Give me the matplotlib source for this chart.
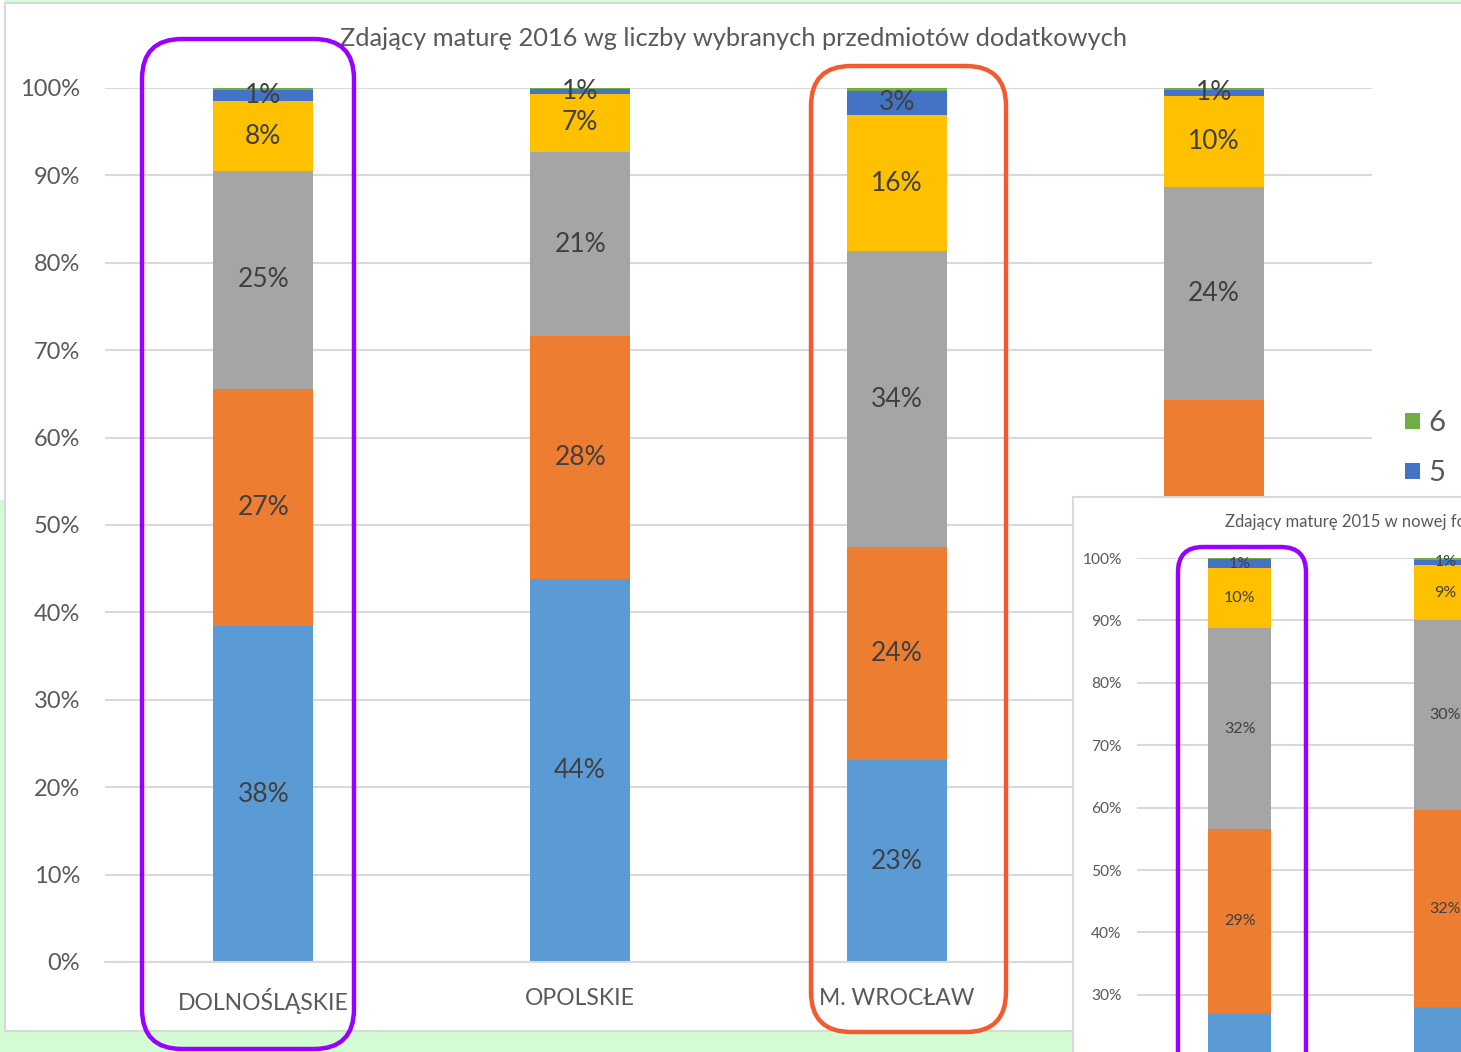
import numpy as np
import matplotlib.pyplot as plt
from matplotlib.patches import FancyBboxPatch, Rectangle, Patch

plt.rcParams['font.family'] = ['Lato', 'DejaVu Sans']

# dane - wykres główny (2016)
kategorie = ["DOLNOŚLĄSKIE", "OPOLSKIE", "M. WROCŁAW", ""]
s1 = [38.4, 43.8, 23.1, 35.9]
s2 = [27.2, 27.8, 24.4, 28.4]
s3 = [24.9, 21.1, 33.8, 24.4]
s4 = [8.0, 6.6, 15.6, 10.4]
s5 = [1.3, 0.6, 2.8, 0.7]
s6 = [0.2, 0.1, 0.3, 0.2]

# dane - wstawka (2015)
kategorie_2015 = ["", ""]
w1 = [27.1, 28.0]
w2 = [29.4, 31.6]
w3 = [32.3, 30.4]
w4 = [9.6, 8.9]
w5 = [1.4, 0.8]
w6 = [0.2, 0.3]

nazwy = ["1", "2", "3", "4", "5", "6"]
kolory = ["#5B9BD5", "#ED7D31", "#A5A5A5", "#FFC000", "#4472C4", "#70AD47"]

W, H = 1461, 1052
fig = plt.figure(figsize=(W / 100, H / 100), dpi=100)
fig.patch.set_facecolor('white')

# tło (zielony pasek i ramka wykresu)
bg = fig.add_axes([0, 0, 1, 1], zorder=-5)
bg.set_xlim(0, W)
bg.set_ylim(H, 0)
bg.axis('off')
bg.add_patch(Rectangle((0, 0), W, H, facecolor='#d4fcd4', edgecolor='none'))
bg.add_patch(Rectangle((0, 0), 5, 500, facecolor='white', edgecolor='none'))
bg.add_patch(Rectangle((5, 3), W + 20, 1028, facecolor='white', edgecolor='#d9d9d9', lw=1.5))


def slupki(ax, serie, szer, fs, etykiety_do=5):
    x = np.arange(len(serie[0]))
    dol = np.zeros(len(x))
    for i, vals in enumerate(serie):
        vals = np.array(vals)
        c = ax.bar(x, vals, szer, bottom=dol, color=kolory[i], label=nazwy[i], zorder=2)
        if i < etykiety_do:
            ax.bar_label(c, labels=[f"{round(v)}%" for v in vals], label_type='center',
                         fontsize=fs, color='#404040')
        dol += vals
    return x


def os_styl(ax, fs, pad):
    ax.set_ylim(0, 100)
    ax.set_yticks(range(0, 101, 10))
    ax.set_yticklabels([f"{v}%" for v in range(0, 101, 10)])
    ax.tick_params(axis='y', length=0, pad=pad, labelsize=fs, labelcolor='#595959')
    ax.grid(axis='y', color='#d9d9d9', lw=1.5, zorder=0)
    ax.set_axisbelow(True)
    for s in ['top', 'right', 'left']:
        ax.spines[s].set_visible(False)
    ax.spines['bottom'].set_color('#d9d9d9')
    ax.spines['bottom'].set_linewidth(1.5)


# wykres główny
ax = fig.add_axes([105 / W, 1 - 962 / H, 1267 / W, 874 / H], zorder=0)
ax.set_facecolor('none')
x = slupki(ax, [s1, s2, s3, s4, s5, s6], 0.316, 19)
os_styl(ax, 17, 18)
ax.set_xlim(-0.5, len(x) - 0.5)
ax.set_xticks(x)
ax.set_xticklabels(kategorie)
ax.tick_params(axis='x', length=0, pad=19, labelsize=16.5, labelcolor='#595959')
fig.text(734 / W, 1 - 39 / H, "Zdający maturę 2016 wg liczby wybranych przedmiotów dodatkowych",
         ha='center', va='center', fontsize=18.3, color='#595959', zorder=1)

uchwyty = [Patch(facecolor=kolory[i], label=nazwy[i]) for i in range(5, -1, -1)]
ax.legend(handles=uchwyty, loc='upper left', bbox_to_anchor=(1379 / W, 1 - 384 / H),
          bbox_transform=fig.transFigure, frameon=False, fontsize=21, labelcolor='#595959',
          handlelength=0.5, handleheight=0.5, handletextpad=0.3, labelspacing=0.82)

# wstawka 2015
panel = fig.add_axes([1073 / W, -0.02, 0.3, (H - 497) / H + 0.02], zorder=2)
panel.set_xticks([])
panel.set_yticks([])
for s in panel.spines.values():
    s.set_color('#d9d9d9')
    s.set_linewidth(1.5)

ax2 = fig.add_axes([1137 / W, 1 - 1182 / H, 411 / W, 624 / H], zorder=3)
ax2.set_facecolor('none')
x2 = slupki(ax2, [w1, w2, w3, w4, w5, w6], 0.307, 11.5)
os_styl(ax2, 11.2, 11)
ax2.set_xlim(-0.5, len(x2) - 0.5)
ax2.set_xticks(x2)
ax2.set_xticklabels(kategorie_2015)
ax2.tick_params(axis='x', length=0)
fig.text(1225 / W, 1 - 522 / H, "Zdający maturę 2015 w nowej formule", ha='left', va='center',
         fontsize=12, color='#595959', zorder=4)

# zaokrąglone ramki
ov = fig.add_axes([0, 0, 1, 1], zorder=10)
ov.set_xlim(0, W)
ov.set_ylim(H, 0)
ov.axis('off')
ov.patch.set_alpha(0)
ov.add_patch(FancyBboxPatch((142, 39), 212, 1010, boxstyle="round,pad=0,rounding_size=40",
                            fill=False, edgecolor='#9900ff', lw=3.2))
ov.add_patch(FancyBboxPatch((811, 66), 195, 966, boxstyle="round,pad=0,rounding_size=40",
                            fill=False, edgecolor='#f55a2f', lw=3.2))
ov.add_patch(FancyBboxPatch((1178, 547), 128, 560, boxstyle="round,pad=0,rounding_size=25",
                            fill=False, edgecolor='#9900ff', lw=3.2))

fig.savefig("out.png", dpi=100)
